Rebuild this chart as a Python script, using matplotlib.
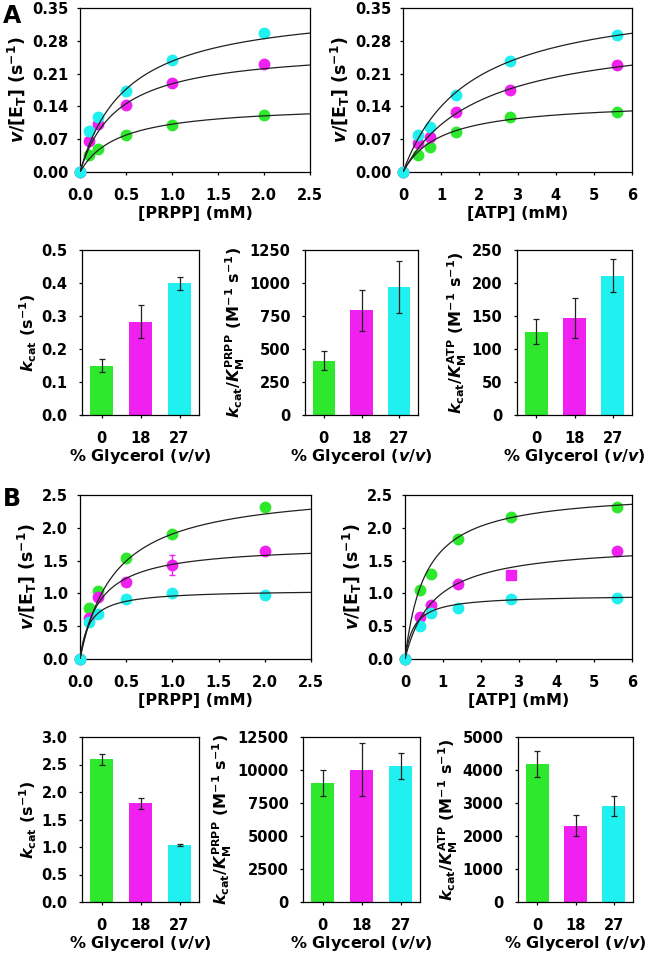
import numpy as np
import matplotlib
matplotlib.use("Agg")
import matplotlib.pyplot as plt

plt.rcParams['font.family'] = ['DejaVu Sans']
plt.rcParams['font.weight'] = 'bold'
plt.rcParams['axes.labelweight'] = 'bold'
plt.rcParams['mathtext.fontset'] = 'custom'
plt.rcParams['mathtext.rm'] = 'DejaVu Sans:bold'
plt.rcParams['mathtext.it'] = 'DejaVu Sans:bold:italic'
plt.rcParams['mathtext.bf'] = 'DejaVu Sans:bold'

# ---------------- data ----------------
prpp = [0, 0.1, 0.2, 0.5, 1.0, 2.0]
atp = [0, 0.4, 0.7, 1.4, 2.8, 5.6]
glycerol = ['0', '18', '27']
series_colors = ['#2ee82e', '#f020f0', '#20f0f0']

# Panel A rate data (green, magenta, cyan)
A_prpp_green = [0, 0.036, 0.049, 0.080, 0.100, 0.122]
A_prpp_magenta = [0, 0.066, 0.102, 0.144, 0.189, 0.230]
A_prpp_cyan = [0, 0.0875, 0.118, 0.172, 0.238, 0.296]
A_atp_green = [0, 0.036, 0.054, 0.085, 0.117, 0.127]
A_atp_magenta = [0, 0.061, 0.075, 0.127, 0.176, 0.228]
A_atp_cyan = [0, 0.080, 0.097, 0.164, 0.236, 0.292]
A_prpp_vmax = [0.145, 0.266, 0.357]
A_prpp_km = [0.42, 0.413, 0.51]
A_atp_vmax = [0.152, 0.304, 0.381]
A_atp_km = [1.0, 2.0, 1.72]

# Panel B rate data
B_prpp_green = [0, 0.77, 1.04, 1.545, 1.905, 2.32]
B_prpp_magenta = [0, 0.63, 0.94, 1.18, 1.43, 1.65]
B_prpp_magenta_err = [0, 0, 0, 0, 0.15, 0]
B_prpp_cyan = [0, 0.56, 0.68, 0.91, 1.00, 0.975]
B_atp_green = [0, 1.05, 1.29, 1.83, 2.16, 2.31]
B_atp_magenta = [0, 0.64, 0.82, 1.14, 1.275, 1.646]
B_atp_cyan = [0, 0.51, 0.70, 0.77, 0.91, 0.93]
B_prpp_vmax = [2.63, 1.746, 1.056]
B_prpp_km = [0.38, 0.21, 0.10]
B_atp_vmax = [2.57, 1.77, 0.977]
B_atp_km = [0.54, 0.75, 0.24]

# Bar data
A_kcat = [0.150, 0.282, 0.399]
A_kcat_err = [0.02, 0.05, 0.02]
A_eff_prpp = [412, 795, 970]
A_eff_prpp_err = [74, 155, 200]
A_eff_atp = [126.5, 147, 211]
A_eff_atp_err = [19.5, 31, 25]
B_kcat = [2.60, 1.80, 1.035]
B_kcat_err = [0.10, 0.10, 0.025]
B_eff_prpp = [9000, 10015, 10320]
B_eff_prpp_err = [1000, 2000, 1000]
B_eff_atp = [4190, 2312, 2911]
B_eff_atp_err = [400, 320, 310]

# ---------------- figure ----------------
W, H = 648, 957
fig = plt.figure(figsize=(W / 100, H / 100), dpi=100)

def ax_px(x0, y0, x1, y1):
    return fig.add_axes([x0 / W, 1 - y1 / H, (x1 - x0) / W, (y1 - y0) / H])

FS_TICK = 10.5
FS_XLAB = 11.5
FS_YLAB_RATE = 12.5
FS_YLAB_BAR = 11.5
ylab_rate = r'$\mathit{v}$/[E$_\mathrm{T}$] (s$^\mathrm{-1}$)'
xlab_gly = r'% Glycerol ($\mathit{v/v}$)'

def style(ax):
    for s in ax.spines.values():
        s.set_linewidth(0.9)
    ax.tick_params(labelsize=FS_TICK, width=0.9, length=2.5)
    for lab in ax.get_xticklabels() + ax.get_yticklabels():
        lab.set_fontweight('bold')

def rate_panel(ax, xs, ys_list, vmax, km, xmax, xticks, xfmt, ylim, yticks, yfmt, xlabel,
               err=None, square_idx=None):
    for i, (ys, c) in enumerate(zip(ys_list, series_colors)):
        for j, (x, y) in enumerate(zip(xs, ys)):
            mk = 's' if (square_idx is not None and square_idx == (i, j)) else 'o'
            ax.plot(x, y, marker=mk, ms=7.5, color=c, mec=c, ls='none', zorder=3, clip_on=False)
        if err is not None and err[0] == i:
            ax.errorbar(xs, ys, yerr=err[1], fmt='none', ecolor=c, elinewidth=1, capsize=2.5, zorder=2)
        xx = np.linspace(0, xmax, 300)
        ax.plot(xx, vmax[i] * xx / (km[i] + xx), color='#202020', lw=0.9, zorder=4)
    ax.set_xlim(0, xmax)
    ax.set_ylim(*ylim)
    ax.set_xticks(xticks)
    ax.set_xticklabels([xfmt.format(t) for t in xticks])
    ax.set_yticks(yticks)
    ax.set_yticklabels([yfmt.format(t) for t in yticks])
    style(ax)
    ax.tick_params(axis='x', direction='out', pad=9)
    ax.tick_params(axis='y', direction='out', pad=6)
    ax.set_xlabel(xlabel, fontsize=FS_XLAB, fontweight='bold', labelpad=2)
    ax.set_ylabel(ylab_rate, fontsize=FS_YLAB_RATE, labelpad=2)

def bar_panel(ax, vals, errs, ylim, yticks, yfmt, ylabel):
    pos = np.arange(len(glycerol))
    ax.bar(pos, vals, width=0.6, color=series_colors, zorder=2)
    ax.errorbar(pos, vals, yerr=errs, fmt='none', ecolor='#202020', elinewidth=0.9,
                capsize=2.5, capthick=0.9, zorder=3)
    ax.set_xlim(-0.5, 2.5)
    ax.set_ylim(*ylim)
    ax.set_xticks(pos)
    ax.set_xticklabels(glycerol)
    ax.set_yticks(yticks)
    ax.set_yticklabels([yfmt.format(t) for t in yticks])
    style(ax)
    ax.tick_params(axis='x', direction='out', pad=9)
    ax.tick_params(axis='y', direction='out', pad=8)
    ax.set_xlabel(xlab_gly, fontsize=FS_XLAB, labelpad=1)
    ax.set_ylabel(ylabel, fontsize=FS_YLAB_BAR, labelpad=2)

ylab_kcat = r'$\mathit{k}_\mathrm{cat}$ (s$^\mathrm{-1}$)'
ylab_eff_prpp = r'$\mathit{k}_\mathrm{cat}$/$\mathit{K}_\mathrm{M}^\mathrm{PRPP}$ (M$^\mathrm{-1}$ s$^\mathrm{-1}$)'
ylab_eff_atp = r'$\mathit{k}_\mathrm{cat}$/$\mathit{K}_\mathrm{M}^\mathrm{ATP}$ (M$^\mathrm{-1}$ s$^\mathrm{-1}$)'

# ---- Panel A ----
a1 = ax_px(80, 8, 310, 172)
rate_panel(a1, prpp, [A_prpp_green, A_prpp_magenta, A_prpp_cyan], A_prpp_vmax, A_prpp_km,
           2.5, [0, 0.5, 1.0, 1.5, 2.0, 2.5], '{:.1f}', (0, 0.35),
           [0, 0.07, 0.14, 0.21, 0.28, 0.35], '{:.2f}', '[PRPP] (mM)')
a2 = ax_px(403, 8, 632, 172)
rate_panel(a2, atp, [A_atp_green, A_atp_magenta, A_atp_cyan], A_atp_vmax, A_atp_km,
           6, [0, 1, 2, 3, 4, 5, 6], '{:d}', (0, 0.35),
           [0, 0.07, 0.14, 0.21, 0.28, 0.35], '{:.2f}', '[ATP] (mM)')

b = ax_px(82, 250, 199, 415)
bar_panel(b, A_kcat, A_kcat_err, (0, 0.5), [0, 0.1, 0.2, 0.3, 0.4, 0.5], '{:.1f}', ylab_kcat)
b = ax_px(305, 250, 418, 415)
bar_panel(b, A_eff_prpp, A_eff_prpp_err, (0, 1250), [0, 250, 500, 750, 1000, 1250], '{:d}', ylab_eff_prpp)
b = ax_px(517, 250, 632, 415)
bar_panel(b, A_eff_atp, A_eff_atp_err, (0, 250), [0, 50, 100, 150, 200, 250], '{:d}', ylab_eff_atp)

# ---- Panel B ----
b1 = ax_px(80, 495, 311, 659)
rate_panel(b1, prpp, [B_prpp_green, B_prpp_magenta, B_prpp_cyan], B_prpp_vmax, B_prpp_km,
           2.5, [0, 0.5, 1.0, 1.5, 2.0, 2.5], '{:.1f}', (0, 2.5),
           [0, 0.5, 1.0, 1.5, 2.0, 2.5], '{:.1f}', '[PRPP] (mM)',
           err=(1, B_prpp_magenta_err))
b2 = ax_px(405, 495, 632, 659)
rate_panel(b2, atp, [B_atp_green, B_atp_magenta, B_atp_cyan], B_atp_vmax, B_atp_km,
           6, [0, 1, 2, 3, 4, 5, 6], '{:d}', (0, 2.5),
           [0, 0.5, 1.0, 1.5, 2.0, 2.5], '{:.1f}', '[ATP] (mM)', square_idx=(1, 4))

b = ax_px(82, 737, 199, 902)
bar_panel(b, B_kcat, B_kcat_err, (0, 3.0), [0, 0.5, 1.0, 1.5, 2.0, 2.5, 3.0], '{:.1f}', ylab_kcat)
b = ax_px(303, 737, 420, 902)
bar_panel(b, B_eff_prpp, B_eff_prpp_err, (0, 12500), [0, 2500, 5000, 7500, 10000, 12500], '{:d}', ylab_eff_prpp)
b = ax_px(518, 737, 633, 902)
bar_panel(b, B_eff_atp, B_eff_atp_err, (0, 5000), [0, 1000, 2000, 3000, 4000, 5000], '{:d}', ylab_eff_atp)

fig.text(3 / W, 1 - 4 / H, 'A', fontsize=17, fontweight='bold', va='top', ha='left')
fig.text(3 / W, 1 - 487 / H, 'B', fontsize=17, fontweight='bold', va='top', ha='left')

fig.savefig('out.png', dpi=100)
